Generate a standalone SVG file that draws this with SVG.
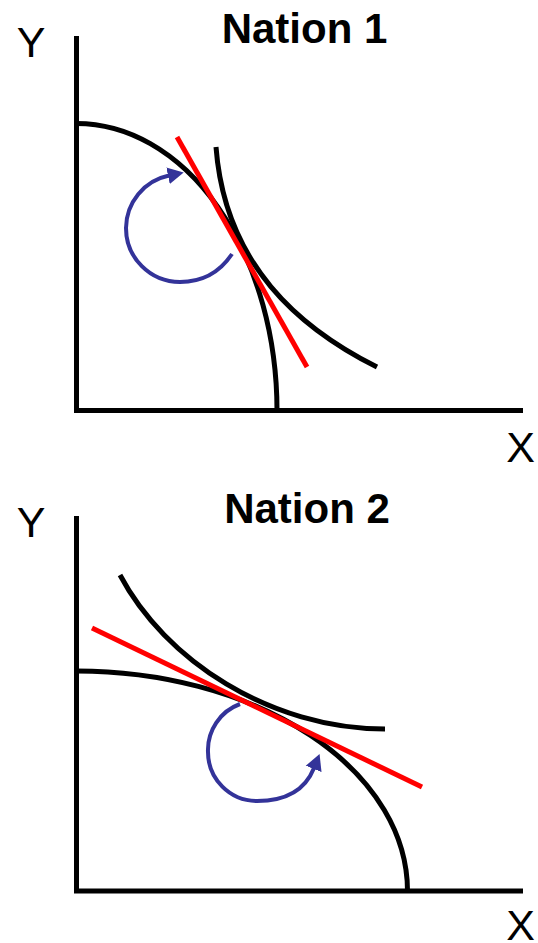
<svg xmlns="http://www.w3.org/2000/svg" width="538" height="943" viewBox="0 0 538 943">
  <style>
    .axis { fill: none; stroke: #000; stroke-width: 5; stroke-linecap: butt; stroke-linejoin: miter; }
    .curve { fill: none; stroke: #000; stroke-width: 5; stroke-linecap: butt; }
    .price { fill: none; stroke: #FF0000; stroke-width: 5; stroke-linecap: butt; }
    .turn { fill: none; stroke: #333399; stroke-width: 4; stroke-linecap: butt; marker-end: url(#ah); }
    .title { font-family: "Liberation Sans", Arial, sans-serif; font-weight: bold; font-size: 42px; fill: #000; text-anchor: middle; }
    .lbl { font-family: "Liberation Sans", Arial, sans-serif; font-size: 43px; fill: #000; text-anchor: middle; }
  </style>
  <defs>
    <marker id="ah" markerUnits="userSpaceOnUse" markerWidth="18" markerHeight="18" viewBox="0 0 18 18" refX="1" refY="9" orient="auto">
      <path d="M0,0.5 L16,9 L0,17.5 Z" fill="#333399"/>
    </marker>
  </defs>
  <rect width="538" height="943" fill="#fff"/>

  <g id="nation1">
    <text class="title" x="304.5" y="43">Nation 1</text>
    <text class="lbl" x="31" y="57">Y</text>
    <text class="lbl" x="520.5" y="462">X</text>
    <path id="axes1" class="axis" d="M76.5,36 V410.5 H523"/>
    <path id="ppf1" class="curve" d="M76.5,123.5 A200.5,287 0 0 1 277,410.5"/>
    <path id="ic1" class="curve" d="M216,147 C225,265 300,328.5 377,367"/>
    <path id="price1" class="price" d="M177,137 L307,367"/>
    <path id="turn1" class="turn" d="M232,254 C220,272 202,282 180,282 A54,54 0 0 1 126,228 A54,54 0 0 1 169,175.5"/>
  </g>

  <g id="nation2">
    <text class="title" x="307" y="523">Nation 2</text>
    <text class="lbl" x="31" y="537">Y</text>
    <text class="lbl" x="520.5" y="940">X</text>
    <path id="axes2" class="axis" d="M76.5,516 V891 H523"/>
    <path id="ppf2" class="curve" d="M76.5,671 A331,220 0 0 1 407.5,891"/>
    <path id="ic2" class="curve" d="M120,575 C165,660 270,729 385,729"/>
    <path id="price2" class="price" d="M92,628 L422,787"/>
    <path id="turn2" class="turn" d="M240,704 A49,49 0 0 0 208,752 A49,49 0 0 0 257,801 C282,801 304,793 314,768"/>
  </g>
</svg>
